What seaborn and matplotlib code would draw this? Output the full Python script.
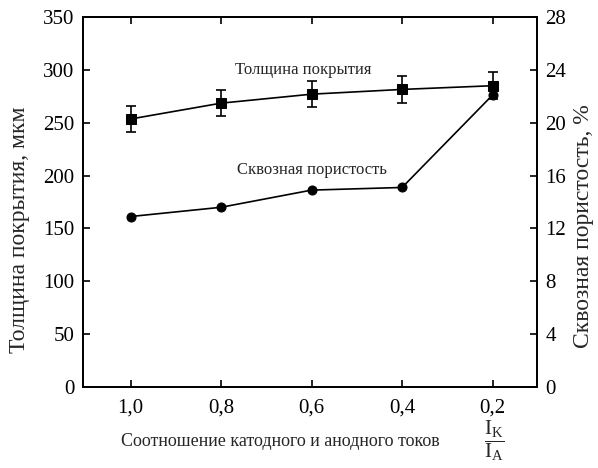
import matplotlib
matplotlib.use("Agg")
import matplotlib.pyplot as plt
import seaborn as sns
import pandas as pd
import numpy as np

ratio = [1.0, 0.8, 0.6, 0.4, 0.2]
tick_labels = ["1,0", "0,8", "0,6", "0,4", "0,2"]
thickness = [253.5, 268.5, 277, 281.5, 285]
thickness_err = [12.5, 12.4, 12, 12.5, 12.7]
porosity = [12.9, 13.6, 14.9, 15.1, 22.1]

sns.set_theme(style="ticks")
plt.rcParams['font.family'] = ['Liberation Serif', 'DejaVu Serif']
plt.rcParams['mathtext.fontset'] = 'custom'
plt.rcParams['mathtext.rm'] = 'Liberation Serif'
plt.rcParams['mathtext.it'] = 'Liberation Serif'

df = pd.DataFrame({"ratio": ratio, "thickness": thickness, "porosity": porosity})

W, H = 598, 468
fig = plt.figure(figsize=(W / 100, H / 100), dpi=100)
L, R, T, B = 83, 537, 17, 387
ax = fig.add_axes([L / W, 1 - B / H, (R - L) / W, (B - T) / H])
ax2 = ax.twinx()

sns.lineplot(data=df, x="ratio", y="thickness", ax=ax, color="black", marker="s",
             markersize=7, markeredgecolor="black", linewidth=1.2)
ax.errorbar(ratio, thickness, yerr=thickness_err, fmt="none", ecolor="black",
            elinewidth=1.2, capsize=3.5, capthick=1.2)
sns.lineplot(data=df, x="ratio", y="porosity", ax=ax2, color="black", marker="o",
             markersize=6.5, markeredgecolor="black", linewidth=1.2)

ax.set_xlim(1.105, 0.102)
ax.set_ylim(0, 350)
ax2.set_ylim(0, 28)
ax.set_xticks(ratio)
ax.set_xticklabels(tick_labels)
ax.set_yticks(np.arange(0, 351, 50))
ax2.set_yticks(np.arange(0, 29, 4))

ax.set_ylabel("Толщина покрытия, мкм", fontsize=17, va="center")
ax.yaxis.set_label_coords((20 - L) / (R - L), (B - 230) / (B - T))
ax2.set_ylabel("Сквозная пористость, %", fontsize=17, va="center")
ax2.yaxis.set_label_coords((583 - L) / (R - L), (B - 226) / (B - T))
ax.set_xlabel("Соотношение катодного и анодного токов", fontsize=13, va="center")
ax.xaxis.set_label_coords((280 - L) / (R - L), (B - 441) / (B - T))
fig.text(494 / W, 1 - 441 / H, r"$\dfrac{\mathrm{I_K}}{\mathrm{I_A}}$", fontsize=15,
         ha="center", va="center")

for a in (ax, ax2):
    a.tick_params(direction="in", length=5, width=1.2, labelsize=15, colors="black", pad=6)
    for s in a.spines.values():
        s.set_linewidth(1.3)
        s.set_color("black")
ax.tick_params(axis="x", top=True, pad=8)

ax.text(0.769, 300, "Толщина покрытия", fontsize=12, va="center", ha="left")
ax.text(0.765, 205, "Сквозная пористость", fontsize=12, va="center", ha="left")

fig.savefig("out.png", dpi=100, facecolor="white")
